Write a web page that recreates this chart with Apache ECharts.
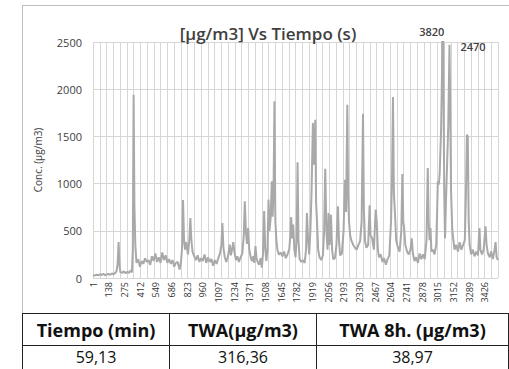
<!DOCTYPE html>
<html>
<head>
<meta charset="utf-8">
<script src="https://cdn.jsdelivr.net/npm/echarts@6/dist/echarts.min.js"></script>
<style>
  html, body { margin: 0; padding: 0; background: #fff; }
  #wrap { position: relative; width: 509px; height: 369px; overflow: hidden; }
  #frame { position: absolute; left: 22px; top: 5px; width: 500px; height: 309px; border: 1.5px solid #bdbdbd; box-sizing: border-box; }
  #chart { position: absolute; left: 0; top: 0; width: 509px; height: 313px; }
  table { position: absolute; left: 22px; top: 313px; width: 487px; border-collapse: collapse; font-family: "Open Sans", sans-serif; color: #111; }
  td { border: 1.5px solid #222; text-align: center; padding: 0; }
  tr.h td { height: 31px; font-size: 18px; font-weight: 700; line-height: 24px; }
  tr.v td { height: 34px; font-size: 16px; font-weight: 400; line-height: 20px; vertical-align: top; padding-top: 1px; }
</style>
</head>
<body>
<div id="wrap">
  <div id="frame"></div>
  <div id="chart"></div>
  <table>
    <tr class="h"><td style="width:146px">Tiempo (min)</td><td style="width:146px">TWA(µg/m3)</td><td>TWA 8h. (µg/m3)</td></tr>
    <tr class="v"><td>59,13</td><td>316,36</td><td>38,97</td></tr>
  </table>
</div>
<script>
// sample time (s)
var sampleTimes = [0,15,30,45,60,75,90,105,120,135,150,165,180,195,205,215,224,232,240,255,270,285,300,315,330,340,348,355,362,370,380,395,410,425,440,455,470,485,500,515,530,545,560,575,590,605,620,635,650,665,680,695,710,725,740,757,770,780,787,795,805,815,830,843,851,860,870,885,900,915,930,945,960,975,990,1005,1020,1035,1050,1065,1080,1095,1110,1122,1131,1140,1152,1165,1180,1195,1205,1215,1226,1238,1250,1262,1275,1290,1305,1318,1327,1336,1346,1356,1366,1380,1390,1400,1410,1420,1430,1440,1452,1465,1476,1486,1496,1505,1515,1525,1534,1542,1552,1563,1570,1578,1586,1594,1603,1612,1625,1640,1655,1670,1685,1700,1715,1725,1732,1740,1750,1760,1770,1780,1788,1796,1806,1820,1835,1850,1862,1870,1880,1890,1900,1910,1922,1932,1943,1950,1958,1968,1980,1995,2010,2020,2030,2040,2050,2059,2068,2080,2090,2100,2115,2128,2141,2150,2160,2175,2190,2202,2212,2223,2230,2238,2248,2260,2275,2290,2305,2320,2335,2348,2360,2368,2378,2390,2405,2418,2426,2440,2455,2471,2480,2490,2500,2515,2530,2545,2560,2575,2590,2605,2614,2622,2630,2640,2650,2663,2680,2695,2704,2712,2720,2730,2745,2760,2775,2786,2796,2810,2825,2840,2855,2870,2885,2900,2915,2926,2934,2942,2950,2958,2970,2985,3000,3008,3014,3022,3030,3043,3051,3057,3063,3070,3077,3085,3095,3105,3110,3116,3122,3130,3140,3150,3160,3175,3190,3205,3220,3235,3250,3260,3268,3276,3284,3292,3305,3320,3335,3350,3365,3378,3386,3400,3415,3431,3440,3452,3468,3480,3495,3510,3519,3528,3540];
// concentration (µg/m3)
var concentration = [30,25,35,28,40,32,45,30,38,42,35,48,40,55,70,150,380,120,60,55,70,50,65,55,80,60,300,1940,760,350,160,200,120,180,150,210,170,190,140,230,180,260,170,220,160,270,190,240,160,200,150,190,120,160,170,90,180,350,825,420,300,380,250,420,635,400,280,230,190,240,170,210,180,250,160,220,170,200,130,190,150,210,260,350,582,320,220,170,230,353,240,300,380,260,190,230,170,220,260,450,812,500,360,530,300,210,180,230,160,339,200,170,140,210,110,260,710,320,180,300,830,500,620,1024,650,900,1871,600,400,300,247,270,230,280,210,250,300,450,646,420,565,300,220,400,1225,400,200,170,190,160,300,688,400,250,500,900,1641,1200,1677,800,600,300,220,190,240,500,1158,500,300,688,350,670,300,200,210,350,759,400,240,260,500,1041,700,1835,900,600,450,390,350,320,300,350,390,600,1740,700,390,320,350,770,450,420,300,724,600,300,220,250,170,210,141,200,240,600,1100,1917,900,670,400,330,280,500,1101,600,530,350,280,250,300,420,260,180,220,160,260,200,250,200,400,1165,600,400,530,280,300,250,350,700,1024,990,1100,1588,2200,3820,2188,900,420,800,1200,1600,2000,2470,1835,900,520,400,300,350,280,380,300,350,400,900,1518,1500,600,350,250,300,230,280,240,530,300,250,300,547,350,260,220,280,200,300,380,220,190];
var yTicks = [0, 500, 1000, 1500, 2000, 2500];
var peakLabels = [{t: 3057, v: 3820}, {t: 3116, v: 2470}];

var chart = echarts.init(document.getElementById('chart'), null, {renderer: 'svg'});
var seriesData = sampleTimes.map(function (t, i) { return [t, concentration[i]]; });
var FONT = '"Open Sans", sans-serif';
chart.setOption({
  animation: false,
  title: {
    text: '[µg/m3] Vs Tiempo (s)', left: 263, top: 20, textAlign: 'center',
    textStyle: { fontFamily: FONT, fontSize: 17, fontWeight: 600, color: '#404040' }
  },
  grid: { left: 93, right: 11, top: 42, bottom: 35 },
  xAxis: [{
    type: 'value', min: 0, max: 3540, interval: 137,
    axisLine: { show: false }, axisTick: { show: false }, splitLine: { show: false },
    axisLabel: { rotate: 90, fontSize: 9, color: '#333', fontFamily: FONT, margin: 4, showMaxLabel: false,
      formatter: function (v) { return String(v + 1); } }
  }, {
    type: 'value', min: 0, max: 3540, interval: 59, position: 'bottom',
    axisLine: { show: false }, axisTick: { show: false }, axisLabel: { show: false },
    splitLine: { show: true, lineStyle: { color: '#d6d6d6', width: 1 } }
  }],
  yAxis: {
    type: 'value', min: yTicks[0], max: yTicks[yTicks.length - 1], interval: 500,
    name: 'Conc. (µg/m3)', nameLocation: 'middle', nameGap: 50,
    nameTextStyle: { fontFamily: FONT, fontSize: 10, color: '#404040' },
    axisLine: { show: false }, axisTick: { show: false },
    axisLabel: { fontFamily: FONT, fontSize: 11, color: '#404040', margin: 11,
      formatter: function (v) { return String(v); } },
    splitLine: { lineStyle: { color: '#d6d6d6', width: 1 } }
  },
  series: [{
    type: 'line', xAxisIndex: 0, data: seriesData, showSymbol: false, symbol: 'none',
    lineStyle: { color: '#a9a9a9', width: 2 }, clip: true,
    markPoint: {
      symbol: 'circle', symbolSize: 0,
      data: [
        { coord: [peakLabels[0].t, 2500], value: peakLabels[0].v,
          label: { show: true, position: 'top', offset: [-11, 0], formatter: String(peakLabels[0].v) } },
        { coord: [peakLabels[1].t, peakLabels[1].v], value: peakLabels[1].v,
          label: { show: true, position: 'right', offset: [6, 2], formatter: String(peakLabels[1].v) } }
      ],
      label: { fontFamily: FONT, fontSize: 11, fontWeight: 600, color: '#404040' }
    }
  }]
});
</script>
</body>
</html>
